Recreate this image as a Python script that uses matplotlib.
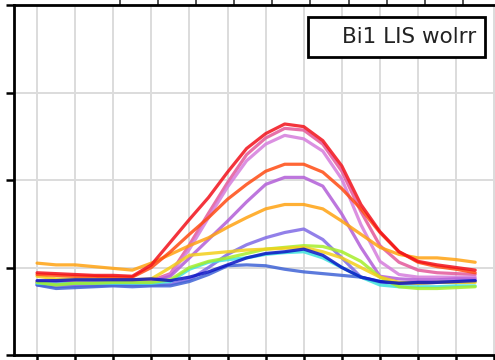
import numpy as np
import matplotlib
matplotlib.use("Agg")
import matplotlib.pyplot as plt
from matplotlib.patches import Rectangle

hours = list(range(24))

red = [-0.06,-0.07,-0.08,-0.09,-0.09,-0.10,0.03,0.29,0.55,0.80,1.09,1.36,1.53,1.64,1.61,1.45,1.16,0.72,0.41,0.18,0.07,0.03,0.00,-0.03]
hotpink = [-0.16,-0.17,-0.17,-0.17,-0.17,-0.17,-0.15,-0.07,0.26,0.62,0.97,1.29,1.48,1.59,1.57,1.41,1.10,0.64,0.25,0.06,-0.03,-0.06,-0.07,-0.08]
orchid = [-0.18,-0.19,-0.19,-0.19,-0.18,-0.18,-0.17,-0.08,0.21,0.57,0.92,1.22,1.41,1.51,1.47,1.33,1.01,0.49,0.07,-0.08,-0.11,-0.11,-0.11,-0.11]
orangered = [-0.08,-0.09,-0.10,-0.10,-0.11,-0.11,0.00,0.18,0.38,0.57,0.78,0.95,1.10,1.18,1.18,1.09,0.90,0.67,0.40,0.18,0.06,0.01,-0.02,-0.06]
mediumorchid = [-0.17,-0.18,-0.18,-0.17,-0.17,-0.17,-0.16,-0.10,0.11,0.32,0.53,0.75,0.95,1.03,1.03,0.93,0.61,0.23,-0.10,-0.13,-0.14,-0.14,-0.13,-0.13]
orange = [0.05,0.03,0.03,0.01,-0.01,-0.03,0.05,0.15,0.25,0.34,0.46,0.57,0.67,0.72,0.72,0.67,0.53,0.38,0.23,0.15,0.11,0.11,0.09,0.06]
slateblue = [-0.20,-0.22,-0.21,-0.21,-0.20,-0.20,-0.20,-0.19,-0.14,0.00,0.15,0.26,0.34,0.40,0.44,0.32,0.11,-0.11,-0.17,-0.18,-0.18,-0.17,-0.16,-0.15]
yellow = [-0.10,-0.13,-0.13,-0.13,-0.13,-0.14,-0.13,0.00,0.14,0.16,0.18,0.20,0.21,0.22,0.23,0.18,0.11,0.00,-0.11,-0.17,-0.18,-0.17,-0.17,-0.17]
chartreuse = [-0.17,-0.20,-0.18,-0.18,-0.17,-0.17,-0.17,-0.14,0.00,0.07,0.11,0.16,0.21,0.23,0.25,0.24,0.18,0.07,-0.11,-0.22,-0.24,-0.24,-0.23,-0.22]
cyan = [-0.18,-0.19,-0.18,-0.18,-0.18,-0.18,-0.18,-0.16,-0.02,0.06,0.09,0.11,0.15,0.17,0.18,0.11,0.00,-0.11,-0.20,-0.22,-0.22,-0.22,-0.21,-0.21]
mediumblue = [-0.15,-0.15,-0.14,-0.14,-0.14,-0.14,-0.13,-0.15,-0.11,-0.05,0.03,0.11,0.16,0.18,0.21,0.14,0.00,-0.11,-0.16,-0.18,-0.17,-0.17,-0.16,-0.15]
royalblue = [-0.20,-0.24,-0.23,-0.22,-0.21,-0.22,-0.21,-0.21,-0.16,-0.08,0.02,0.03,0.02,-0.02,-0.05,-0.07,-0.09,-0.11,-0.16,-0.18,-0.18,-0.17,-0.17,-0.16]

series = [
    (hotpink, "#e3589a"),
    (orchid, "#d57ddc"),
    (mediumorchid, "#b25ed8"),
    (slateblue, "#7f6ae6"),
    (royalblue, "#3f63d6"),
    (cyan, "#3fe3dc"),
    (chartreuse, "#a6ee2a"),
    (yellow, "#f3cf1a"),
    (orange, "#ffa312"),
    (orangered, "#ff4b12"),
    (red, "#f2101a"),
    (mediumblue, "#0a14c4"),
]

label_text = "Bi1 LIS wolrr"

fig = plt.figure(figsize=(4.95, 3.6), dpi=100)
W, H = 495.0, 360.0
left_px, bottom_px, top_px = 14.0, 355.0, 5.0
xmin, xmax = -1.21, 25.2
px_per_unit = 19.05
right_px = left_px + (xmax - xmin) * px_per_unit
ax = fig.add_axes([left_px / W, (H - bottom_px) / H,
                   (right_px - left_px) / W, (bottom_px - top_px) / H])

for vals, col in series:
    ax.plot(hours, vals, color=col, lw=2.3, alpha=0.85, solid_capstyle="round", zorder=3)

ax.set_xlim(xmin, xmax)
ax.set_ylim(-1, 3)
ax.set_xticks(np.arange(0, 26, 2))
ax.set_yticks([-1, 0, 1, 2, 3])
ax.tick_params(axis="both", direction="out", length=5.5, width=1.8,
               labelbottom=False, labelleft=False, color="black")
ax.grid(True, axis="x", color="#dcdcdc", lw=1.4, zorder=0)
ax.grid(True, axis="y", color="#dcdcdc", lw=1.4, zorder=0)
ax.set_axisbelow(True)
for s in ax.spines.values():
    s.set_linewidth(2.0)
    s.set_color("black")

sec = ax.secondary_xaxis("top")
sec.set_xticks(np.arange(4.35, 23, 2))
sec.tick_params(direction="out", length=4, width=1.2, labeltop=False, color="#333333")

# label box
bx0, bx1, by0, by1 = 308, 485, 17, 57
fig.patches.append(Rectangle((bx0 / W, 1 - by1 / H), (bx1 - bx0) / W, (by1 - by0) / H,
                             transform=fig.transFigure, fill=True, facecolor="white",
                             edgecolor="black", lw=2.0, zorder=10))
fig.text(476 / W, 1 - 37 / H, label_text, ha="right", va="center",
         fontsize=15.5, color="#222222", zorder=11)

fig.savefig("out.png", dpi=100)
